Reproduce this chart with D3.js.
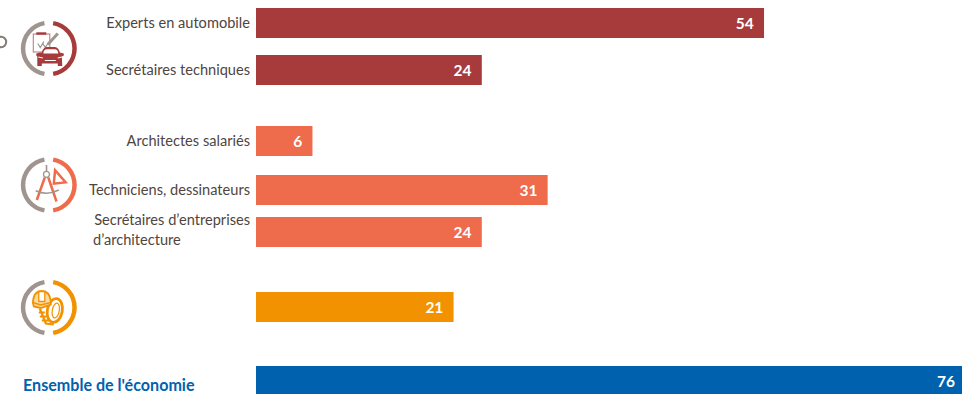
<!DOCTYPE html>
<html lang="fr">
<head>
<meta charset="utf-8">
<script src="https://cdn.jsdelivr.net/npm/d3@7/dist/d3.min.js"></script>
<style>
  html, body { margin: 0; padding: 0; background: #fff; overflow: hidden; }
  svg { display: block; }
  text { font-family: Lato, "Open Sans", sans-serif; }
</style>
</head>
<body>
<script>
// Professions shown as horizontal bars, grouped by sector.
// The orange bar carries no text label, only its pictogram.
const categories = ["Experts en automobile", "Secrétaires techniques", "Architectes salariés", "Techniciens, dessinateurs", "Secrétaires d’entreprises|d’architecture", "", "Ensemble de l'économie"];
const values = [54, 24, 6, 31, 24, 21, 76];
const sectors = ["auto", "auto", "archi", "archi", "archi", "btp", "all"];

const sectorNames = ["auto", "archi", "btp", "all"];
const sectorColors = ["#A73A3B", "#EE6B4C", "#F39200", "#0062AE"];
const iconSectors = ["auto", "archi", "btp"];

const W = 962, H = 394;
const barHeight = 30;
const labelColor = "#4F4540";
const ringGrey = "#A0948E";

const x = d3.scaleLinear().domain([0, 76]).range([256, 971]);
const color = d3.scaleOrdinal(sectorNames, sectorColors);
const rowTop = d3.scaleOrdinal(categories, [8, 55, 126, 175, 217, 292, 366]);
const iconCenter = d3.scaleOrdinal(iconSectors, [48.5, 185, 307.5]);

const svg = d3.select("body").append("svg").attr("width", W).attr("height", H);

// Bars
const rows = categories.map((c, i) => ({ name: c, value: values[i], sector: sectors[i] }));
svg.selectAll("rect.bar").data(rows).join("rect")
  .attr("class", "bar")
  .attr("x", x(0))
  .attr("y", d => rowTop(d.name))
  .attr("width", d => x(d.value) - x(0))
  .attr("height", barHeight)
  .attr("fill", d => color(d.sector));

// Value labels, kept inside the visible part of the bar
svg.selectAll("text.value").data(rows).join("text")
  .attr("class", "value")
  .attr("x", d => Math.min(x(d.value) - 10.2, 955))
  .attr("y", d => rowTop(d.name) + 15)
  .attr("dy", "0.37em")
  .attr("text-anchor", "end")
  .attr("fill", "#fff")
  .attr("font-size", 15.5)
  .attr("font-weight", 700)
  .text(d => d.value);

// Category labels, right-aligned except for the wrapped second line
rows.filter(d => d.sector !== "btp" && d.sector !== "all").forEach(d => {
  const parts = d.name.split("|");
  const top = rowTop(d.name);
  if (parts.length === 1) {
    svg.append("text")
      .attr("x", 250).attr("y", top + 15.3).attr("dy", "0.35em")
      .attr("text-anchor", "end").attr("font-size", 14.6).attr("fill", labelColor)
      .text(parts[0]);
  } else {
    const t = svg.append("text").attr("font-size", 14.6).attr("fill", labelColor);
    t.append("tspan").attr("x", 250).attr("y", top + 8).attr("text-anchor", "end").text(parts[0]);
    t.append("tspan").attr("x", 93).attr("y", top + 28).text(parts[1]);
  }
});

svg.append("text")
  .attr("x", 23).attr("y", 391)
  .attr("font-size", 16.1).attr("font-weight", 700).attr("fill", "#0062AE")
  .text("Ensemble de l'économie");

// Ring around each pictogram: grey half on the left, sector colour on the right
const arc = d3.arc().innerRadius(23.5).outerRadius(28);
const gap = 0.17;
const icons = svg.selectAll("g.icon").data(iconSectors).join("g")
  .attr("class", "icon")
  .attr("transform", d => `translate(48.8,${iconCenter(d)})`);
icons.append("path")
  .attr("d", arc({ startAngle: -Math.PI + gap, endAngle: -gap }))
  .attr("fill", ringGrey);
icons.append("path")
  .attr("d", arc({ startAngle: gap, endAngle: Math.PI - gap }))
  .attr("fill", d => color(d));

// Car and clipboard pictogram
const auto = icons.filter(d => d === "auto");
const autoColor = color("auto");
auto.append("rect").attr("x", -15.5).attr("y", -14.5).attr("width", 16.5).attr("height", 18)
  .attr("fill", "none").attr("stroke", "#C07F7F").attr("stroke-width", 1.1);
auto.append("rect").attr("x", -12.5).attr("y", -16.2).attr("width", 10).attr("height", 2.4).attr("fill", autoColor);
auto.append("path").attr("d", "M-11,-5 L-8.5,-1 L-5,-7 M-6,-5 L-3.5,-1 L-1,-5")
  .attr("fill", "none").attr("stroke", ringGrey).attr("stroke-width", 1.2);
auto.append("path").attr("d", "M-1,-4 L9,-15").attr("stroke", ringGrey).attr("stroke-width", 3);
auto.append("path").attr("d", "M-7,4 Q-6,-1 -2,-1.5 L6,-1.5 Q10,-1 11,4 L15,5 L15,7 L13,8 L13.5,17.5 L9,17.5 L9,15 L-7,15 L-7,17.5 L-11.5,17.5 L-11.5,8 L-12.5,7 L-12.5,5 L-9,4 Z")
  .attr("fill", autoColor);
auto.append("path").attr("d", "M-5.5,5 Q-5,0.8 -2,0.8 L6,0.8 Q9,0.8 9.5,5 Z").attr("fill", "#fff");
auto.append("path").attr("d", "M-10.5,8.5 L-6,9.5 M9,9.5 L13,8.5 M-4,12 L7,12").attr("stroke", "#fff").attr("stroke-width", 1.2);

// Compass and set square pictogram
const archi = icons.filter(d => d === "archi");
const archiColor = color("archi");
archi.append("path").attr("d", "M-2.3,-20 L-2.3,-14").attr("stroke", ringGrey).attr("stroke-width", 1.6);
archi.append("circle").attr("cx", -2.3).attr("cy", -10.7).attr("r", 3)
  .attr("fill", "none").attr("stroke", ringGrey).attr("stroke-width", 1.3);
archi.append("path").attr("d", "M-4,-7.5 L-12,15 M-0.5,-7.5 L7.7,16.5")
  .attr("stroke", archiColor).attr("stroke-width", 2.5).attr("fill", "none");
archi.append("path").attr("d", "M-13,5.7 Q-2,11 10,5")
  .attr("stroke", ringGrey).attr("stroke-width", 1.5).attr("fill", "none");
archi.append("path").attr("d", "M5.3,-17.7 L19.3,-1.7 L3.7,0 Z M7.3,-11.8 L14.5,-3.6 L6.3,-2.7 Z")
  .attr("fill", archiColor).attr("fill-rule", "evenodd");

// Hard hat and tyre pictogram
const btp = icons.filter(d => d === "btp");
const btpColor = color("btp");
btp.append("path").attr("d", "M-9,1 L-3,16 L5,17 M-10,5 L-4,5 M-9,9 L-2,9 M-7,13 L0,13")
  .attr("fill", "none").attr("stroke", btpColor).attr("stroke-width", 2.2);
btp.append("ellipse").attr("cx", 6).attr("cy", 3).attr("rx", 7.5).attr("ry", 12).attr("transform", "rotate(10 6 3)")
  .attr("fill", "#fff").attr("stroke", btpColor).attr("stroke-width", 2.8);
btp.append("ellipse").attr("cx", 7).attr("cy", 3).attr("rx", 3.5).attr("ry", 7.5).attr("transform", "rotate(10 7 3)")
  .attr("fill", "#fff").attr("stroke", btpColor).attr("stroke-width", 1.2);
btp.append("path").attr("d", "M-16,-5 Q-15,-16.5 -7,-16.5 Q1,-16.5 2,-6 L2,-3 L-8,0.5 L-15,-1 Z")
  .attr("fill", "#FBD9A3").attr("stroke", btpColor).attr("stroke-width", 1.8);
btp.append("path").attr("d", "M-10,-16 L-10,-6 L-4,-6 L-4,-16 Z").attr("fill", "#fff").attr("stroke", btpColor).attr("stroke-width", 1.3);
btp.append("path").attr("d", "M-16,-5 L-8,-2.5 L2,-5")
  .attr("fill", "none").attr("stroke", btpColor).attr("stroke-width", 1.6);

// Fragment of a ring cut off by the left edge
svg.append("circle").attr("cx", 1).attr("cy", 42).attr("r", 5.2)
  .attr("fill", "none").attr("stroke", "#857A74").attr("stroke-width", 2);
</script>
</body>
</html>
